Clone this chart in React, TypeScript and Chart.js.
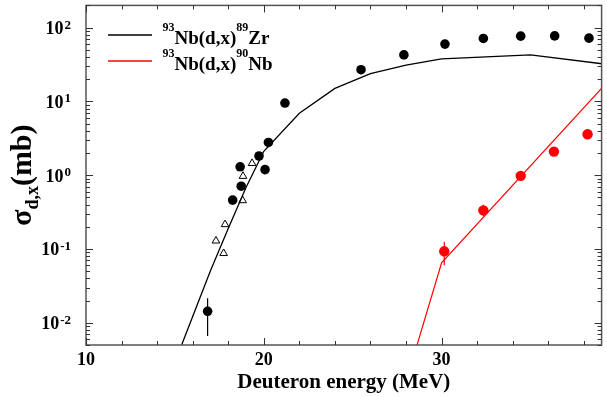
import React, { useEffect, useRef } from "react";
import { Chart, registerables } from "chart.js";

Chart.register(...registerables);

const FONT = "'Liberation Serif', 'Times New Roman', serif";

// Axis settings / tick labels
const xMin = 10;
const xMax = 39;
const xMajorTicks = [10, 20, 30];
const xMinorStep = 2;
const yMin = 0.005;
const yMax = 200;
const yDecades = [0.01, 0.1, 1, 10, 100];
const yDecadeExponents = ["-2", "-1", "0", "1", "2"];

// 93Nb(d,x)89Zr measured (filled circles)
const zrExpEnergy = [16.84, 18.25, 18.67, 18.73, 19.73, 20.07, 20.26, 21.19, 25.47, 27.88, 30.19, 32.35, 34.45, 36.36, 38.29];
const zrExpValue = [0.0143, 0.46, 1.3, 0.71, 1.82, 1.19, 2.78, 9.5, 26.9, 42.7, 59.8, 71.3, 76.6, 77.2, 72.0];
const zrErrEnergy = [16.84];
const zrErrLow = [0.0066];
const zrErrHigh = [0.0215];

// 93Nb(d,x)89Zr other measurement (open triangles)
const zrTriEnergy = [17.31, 17.74, 17.82, 18.81, 18.83, 19.34];
const zrTriValue = [0.129, 0.0873, 0.215, 0.454, 0.97, 1.45];

// 93Nb(d,x)89Zr calculation (black line)
const zrCalcEnergy = [15, 16, 17, 18, 19, 20, 22, 24, 26, 28, 30, 35, 40];
const zrCalcValue = [0.0029, 0.0122, 0.0506, 0.19, 0.68, 2.11, 6.9, 15.0, 23.8, 31.0, 37.8, 42.7, 30.3];

// 93Nb(d,x)90Nb measured (red circles)
const nbExpEnergy = [30.15, 32.35, 34.45, 36.32, 38.21];
const nbExpValue = [0.093, 0.334, 0.98, 2.09, 3.59];
const nbErrEnergy = [30.15, 32.35];
const nbErrLow = [0.06, 0.278];
const nbErrHigh = [0.125, 0.398];

// 93Nb(d,x)90Nb calculation (red line)
const nbCalcEnergy = [28.5, 30, 40];
const nbCalcValue = [0.004, 0.065, 27.5];

const toPts = (xs: number[], ys: number[]) => xs.map((x, i) => ({ x, y: ys[i] }));

const decorPlugin = {
  id: "decor",
  beforeDatasetsDraw(chart: any) {
    const { ctx, scales } = chart;
    const xs = scales.x;
    const ys = scales.y;
    ctx.save();
    ctx.lineWidth = 1.2;
    const bars = [
      { e: zrErrEnergy, lo: zrErrLow, hi: zrErrHigh, c: "#000" },
      { e: nbErrEnergy, lo: nbErrLow, hi: nbErrHigh, c: "#ff0000" },
    ];
    bars.forEach((b) => {
      ctx.strokeStyle = b.c;
      b.e.forEach((e, i) => {
        const px = xs.getPixelForValue(e);
        ctx.beginPath();
        ctx.moveTo(px, ys.getPixelForValue(b.lo[i]));
        ctx.lineTo(px, ys.getPixelForValue(b.hi[i]));
        ctx.stroke();
      });
    });
    ctx.restore();
  },
  afterDatasetsDraw(chart: any) {
    const { ctx, chartArea: a, scales } = chart;
    const xs = scales.x;
    const ys = scales.y;
    ctx.save();
    ctx.strokeStyle = "#555";
    ctx.lineWidth = 1.5;
    ctx.strokeRect(a.left, a.top, a.right - a.left, a.bottom - a.top);
    ctx.lineWidth = 1;
    ctx.strokeStyle = "#333";
    const seg = (x1: number, y1: number, x2: number, y2: number) => {
      ctx.beginPath();
      ctx.moveTo(x1, y1);
      ctx.lineTo(x2, y2);
      ctx.stroke();
    };
    for (let e = xMin; e <= xMax; e += xMinorStep) {
      const px = Math.round(xs.getPixelForValue(e)) + 0.5;
      const len = xMajorTicks.includes(e) ? 7 : 4;
      seg(px, a.bottom, px, a.bottom - len);
      seg(px, a.top, px, a.top + len);
    }
    yDecades.concat([0.001]).forEach((d) => {
      for (let m = 1; m <= 9; m++) {
        const v = d * m;
        if (v < yMin || v > yMax) continue;
        const py = Math.round(ys.getPixelForValue(v)) + 0.5;
        const len = m === 1 ? 7 : 4;
        seg(a.left, py, a.left + len, py);
        seg(a.right, py, a.right - len, py);
      }
    });
    ctx.restore();
  },
  afterDraw(chart: any) {
    const { ctx, scales, chartArea: a } = chart;
    const ys = scales.y;
    ctx.save();
    ctx.fillStyle = "#000";
    ctx.textBaseline = "alphabetic";
    // y tick labels 10^n
    yDecades.forEach((d, i) => {
      const py = ys.getPixelForValue(d);
      ctx.font = `bold 18px ${FONT}`;
      const w10 = ctx.measureText("10").width;
      ctx.font = `bold 13px ${FONT}`;
      const wSup = ctx.measureText(yDecadeExponents[i]).width;
      const start = 71 - (w10 + wSup + 1);
      ctx.font = `bold 18px ${FONT}`;
      ctx.textAlign = "left";
      ctx.fillText("10", start, py + 6.5);
      ctx.font = `bold 13px ${FONT}`;
      ctx.fillText(yDecadeExponents[i], start + w10 + 1, py + 1);
    });
    // y axis title: sigma_{d,x}(mb)
    const cy = (a.top + a.bottom) / 2;
    ctx.save();
    ctx.translate(31, cy);
    ctx.rotate(-Math.PI / 2);
    ctx.font = `bold 30px ${FONT}`;
    const wS = ctx.measureText("σ").width;
    const wP = ctx.measureText("(mb)").width;
    ctx.font = `bold 18px ${FONT}`;
    const wD = ctx.measureText("d,x").width;
    let u = -(wS + wD + wP) / 2;
    ctx.font = `bold 30px ${FONT}`;
    ctx.fillText("σ", u, 0);
    u += wS;
    ctx.font = `bold 18px ${FONT}`;
    ctx.fillText("d,x", u, 7);
    u += wD;
    ctx.font = `bold 30px ${FONT}`;
    ctx.fillText("(mb)", u, 0);
    ctx.restore();
    // legend
    const entries = [
      { c: "#000", y: 35, parts: ["93", "Nb(d,x)", "89", "Zr"] },
      { c: "#ff0000", y: 61, parts: ["93", "Nb(d,x)", "90", "Nb"] },
    ];
    entries.forEach((en) => {
      ctx.strokeStyle = en.c;
      ctx.lineWidth = 1.3;
      ctx.beginPath();
      ctx.moveTo(108, en.y);
      ctx.lineTo(152, en.y);
      ctx.stroke();
      let x = 162.5;
      en.parts.forEach((p, k) => {
        const sup = k % 2 === 0;
        ctx.font = sup ? `bold 12px ${FONT}` : `bold 19px ${FONT}`;
        ctx.fillStyle = "#000";
        ctx.fillText(p, x, sup ? en.y - 4 : en.y + 8.5);
        x += ctx.measureText(p).width;
      });
    });
    ctx.restore();
  },
};

export default function App() {
  const ref = useRef<HTMLCanvasElement | null>(null);
  useEffect(() => {
    if (!ref.current) return;
    const chart = new Chart(ref.current, {
      type: "scatter",
      data: {
        datasets: [
          {
            label: "93Nb(d,x)89Zr calc",
            data: toPts(zrCalcEnergy, zrCalcValue),
            showLine: true,
            borderColor: "#000",
            borderWidth: 1.3,
            pointRadius: 0,
            fill: false,
          },
          {
            label: "93Nb(d,x)90Nb calc",
            data: toPts(nbCalcEnergy, nbCalcValue),
            showLine: true,
            borderColor: "#ff0000",
            borderWidth: 1.2,
            pointRadius: 0,
            fill: false,
          },
          {
            label: "93Nb(d,x)89Zr exp",
            data: toPts(zrExpEnergy, zrExpValue),
            showLine: false,
            pointStyle: "circle",
            pointRadius: 4.8,
            backgroundColor: "#000",
            borderColor: "#000",
            borderWidth: 0,
          },
          {
            label: "93Nb(d,x)89Zr exp2",
            data: toPts(zrTriEnergy, zrTriValue),
            showLine: false,
            pointStyle: "triangle",
            pointRadius: 4.4,
            backgroundColor: "#fff",
            borderColor: "#000",
            borderWidth: 1,
          },
          {
            label: "93Nb(d,x)90Nb exp",
            data: toPts(nbExpEnergy, nbExpValue),
            showLine: false,
            pointStyle: "circle",
            pointRadius: 5.2,
            backgroundColor: "#ff0000",
            borderColor: "#ff0000",
            borderWidth: 0,
          },
        ],
      },
      options: {
        animation: false,
        responsive: false,
        layout: { padding: { top: 1, right: 5, left: 0, bottom: 0 } },
        plugins: { legend: { display: false }, tooltip: { enabled: false } },
        scales: {
          x: {
            type: "linear",
            min: xMin,
            max: xMax,
            grid: { display: false, drawTicks: false },
            border: { display: false },
            afterBuildTicks: (s: any) => {
              s.ticks = xMajorTicks.map((v) => ({ value: v }));
            },
            ticks: {
              font: { family: FONT, size: 18, weight: "bold" },
              color: "#000",
              padding: 5,
              maxRotation: 0,
              autoSkip: false,
            },
            title: {
              display: true,
              text: "Deuteron energy (MeV)",
              font: { family: FONT, size: 21, weight: "bold" },
              color: "#000",
              padding: { top: 0, bottom: 2 },
            },
            afterFit: (s: any) => {
              s.height = 52;
            },
          },
          y: {
            type: "logarithmic",
            min: yMin,
            max: yMax,
            grid: { display: false, drawTicks: false },
            border: { display: false },
            ticks: { display: false },
            afterFit: (s: any) => {
              s.width = 86;
            },
          },
        },
      },
      plugins: [decorPlugin],
    } as any);
    return () => chart.destroy();
  }, []);
  return (
    <div style={{ position: "fixed", left: 0, top: 0, width: 607, height: 397, background: "#fff" }}>
      <canvas ref={ref} width={607} height={397} />
    </div>
  );
}
